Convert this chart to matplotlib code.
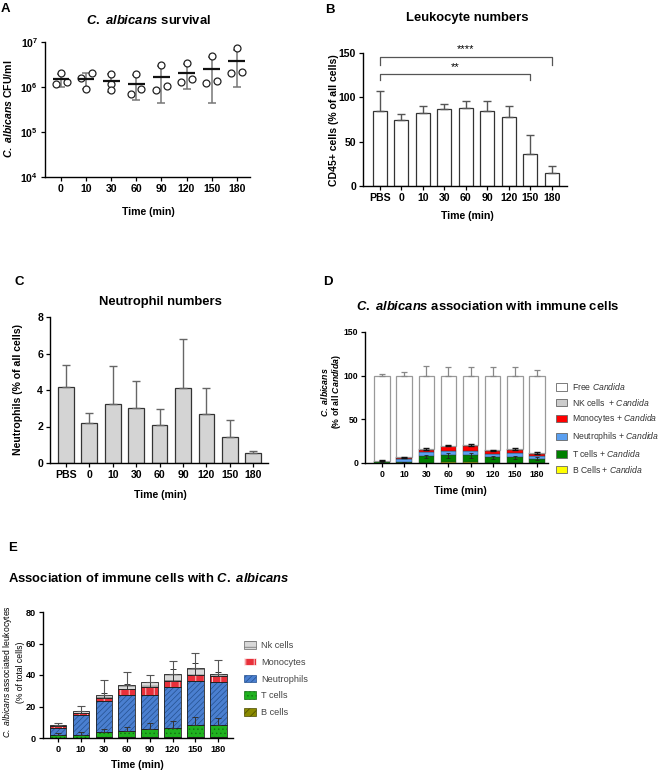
import numpy as np
import matplotlib
matplotlib.use("Agg")
import matplotlib.pyplot as plt
from matplotlib.patches import Patch

plt.rcParams['font.family'] = 'Liberation Sans'
plt.rcParams['font.weight'] = 'bold'
plt.rcParams['mathtext.fontset'] = 'custom'
plt.rcParams['mathtext.rm'] = 'Liberation Sans:bold'
plt.rcParams['mathtext.bf'] = 'Liberation Sans:bold'
plt.rcParams['mathtext.it'] = 'Liberation Sans:italic:bold'
plt.rcParams['mathtext.sf'] = 'Liberation Sans:italic:regular'
plt.rcParams['hatch.linewidth'] = 0.5
plt.rcParams['axes.linewidth'] = 1.0

# ---------------- data ----------------
times = ['0', '10', '30', '60', '90', '120', '150', '180']
times_pbs = ['PBS'] + times

# A: C. albicans CFU/ml, three mice per time point
cfu_pts = [[1.19e6, 2.05e6, 1.29e6],
           [1.58e6, 0.89e6, 2.05e6],
           [1.98e6, 1.15e6, 0.87e6],
           [0.69e6, 1.98e6, 0.89e6],
           [0.87e6, 3.10e6, 1.07e6],
           [1.29e6, 3.50e6, 1.50e6],
           [1.23e6, 4.90e6, 1.38e6],
           [2.08e6, 7.30e6, 2.20e6]]
cfu_mean = [1.50e6, 1.50e6, 1.33e6, 1.19e6, 1.68e6, 2.10e6, 2.50e6, 3.85e6]
cfu_sd = [0.48e6, 0.60e6, 0.57e6, 0.68e6, 1.25e6, 1.20e6, 2.05e6, 2.85e6]

# B: CD45+ cells (% of all cells)
cd45 = [85, 75, 82, 87, 88, 85, 78, 36, 15]
cd45_sd = [22, 6, 8, 6, 8, 11, 12, 21, 8]

# C: neutrophils (% of all cells)
neut = [4.18, 2.17, 3.26, 3.02, 2.09, 4.09, 2.67, 1.41, 0.55]
neut_sd = [1.21, 0.59, 2.04, 1.46, 0.87, 2.72, 1.42, 0.96, 0.1]

# D: C. albicans association (% of all Candida)
d_b = [0.1, 0.0, 0.5, 0.8, 0.8, 0.3, 0.3, 0.3]
d_t = [2.0, 1.2, 7.0, 8.0, 8.0, 6.2, 6.2, 4.7]
d_n = [0.3, 3.4, 4.6, 5.0, 5.5, 3.4, 5.0, 2.6]
d_m = [0.1, 1.2, 3.0, 5.3, 5.3, 3.5, 3.8, 3.1]
d_nk = [0.1, 0.6, 0.8, 0.8, 0.7, 1.0, 1.0, 1.1]
d_free = [97.4, 93.6, 84.1, 80.1, 79.7, 85.6, 83.7, 88.2]
d_free_sd = [1.5, 4, 11, 10, 10, 10, 10, 7]
d_t_sd = [0.5, 0.5, 2.0, 3.0, 3.0, 2.0, 2.0, 1.5]
d_top_sd = [0.4, 0.8, 1.0, 1.0, 1.0, 1.0, 1.0, 1.0]

# E: associated leukocytes (% of total cells)
e_b = [0.3, 0.2, 0.4, 0.5, 0.5, 0.5, 0.6, 0.8]
e_t = [1.4, 1.9, 3.4, 4.1, 5.4, 5.8, 7.4, 7.2]
e_n = [4.6, 12.6, 19.4, 22.8, 21.5, 26.3, 28.4, 27.5]
e_m = [1.1, 1.1, 2.1, 3.6, 4.8, 3.6, 3.8, 3.9]
e_nk = [0.8, 1.2, 1.7, 2.7, 3.4, 4.2, 4.4, 1.2]
e_t_sd = [1.4, 1.7, 2.1, 2.6, 3.8, 4.3, 5.5, 4.8]
e_m_sd = [0.5, 1.5, 3.0, 3.1, 3.5, 7.6, 7.6, 2.5]
e_nk_sd = [1.3, 3.4, 9.8, 8.0, 4.4, 8.6, 9.5, 9.0]

# ---------------- layout helpers ----------------
W, H = 665, 773
fig = plt.figure(figsize=(W / 100, H / 100), dpi=100)


def px_axes(l, t, r, b):
    return fig.add_axes([l / W, 1 - b / H, (r - l) / W, (b - t) / H])


def ftext(x, y, s, **kw):
    kw.setdefault('ha', 'center')
    kw.setdefault('va', 'center')
    fig.text(x / W, 1 - y / H, s, **kw)


def style(ax, fs):
    ax.spines['top'].set_visible(False)
    ax.spines['right'].set_visible(False)
    ax.tick_params(direction='out', length=3, width=0.9, labelsize=fs, pad=2)


TITLE = 9.4
LAB = 7.6

# ---------------- A ----------------
axA = px_axes(45, 42, 250, 177)
style(axA, 7.6)
xa = np.arange(len(times))
jit = [[-0.22, 0, 0.22], [-0.22, 0, 0.22], [0, 0, 0], [-0.2, 0, 0.2],
       [-0.22, 0, 0.22], [-0.22, 0, 0.22], [-0.22, 0, 0.22], [-0.22, 0, 0.22]]
for i in range(len(times)):
    axA.plot(np.array(jit[i]) + i, cfu_pts[i], 'o', mfc='white', mec='#222',
             mew=0.9, ms=5, zorder=3)
axA.errorbar(xa, cfu_mean, yerr=cfu_sd, fmt='none', ecolor='#777',
             elinewidth=1.1, capsize=3, capthick=1.1, zorder=2)
axA.hlines(cfu_mean, xa - 0.33, xa + 0.33, color='#111', lw=1.6, zorder=4)
axA.set_yscale('log')
axA.set_ylim(1e4, 1e7)
axA.set_xlim(-0.64, 7.53)
axA.set_xticks(xa)
axA.set_xticklabels(times)
axA.yaxis.set_minor_locator(matplotlib.ticker.NullLocator())

ftext(5, 9, 'A', fontsize=9.5)
ftext(148, 20, r'$C.\ albicans$ survival', fontsize=TITLE)
ftext(8, 109, r'$C.\ albicans$ CFU/ml', fontsize=LAB, rotation=90)
ftext(148, 212, 'Time (min)', fontsize=LAB)

# ---------------- B ----------------
axB = px_axes(363, 53, 567, 186)
style(axB, 7.6)
xb = np.arange(len(times_pbs))
axB.bar(xb, cd45, 0.65, color='white', edgecolor='#333', lw=0.9)
axB.errorbar(xb, cd45, yerr=[np.zeros(len(xb)), cd45_sd], fmt='none',
             ecolor='#555', elinewidth=1, capsize=3, capthick=1)
axB.set_ylim(0, 150)
axB.set_yticks([0, 50, 100, 150])
axB.set_xlim(-0.79, 8.7)
axB.set_xticks(xb)
axB.set_xticklabels(times_pbs)
# significance brackets
axB.plot([0, 0, 8, 8], [137, 145, 145, 137], color='#555', lw=0.9, clip_on=False)
axB.plot([0, 0, 7, 7], [119, 126.6, 126.6, 119], color='#555', lw=0.9, clip_on=False)
axB.text(4, 148.5, '****', ha='center', va='bottom', fontsize=8, fontweight='normal')
axB.text(3.5, 128.5, '**', ha='center', va='bottom', fontsize=8, fontweight='normal')

ftext(330, 10, 'B', fontsize=9.5)
ftext(467, 18, 'Leukocyte numbers', fontsize=TITLE)
ftext(334, 120, 'CD45+ cells (% of all cells)', fontsize=LAB, rotation=90)
ftext(467, 216, 'Time (min)', fontsize=LAB)

# ---------------- C ----------------
axC = px_axes(50, 317, 268, 463)
style(axC, 7.6)
axC.bar(xb, neut, 0.67, color='#d4d4d4', edgecolor='#333', lw=0.9)
axC.errorbar(xb, neut, yerr=[np.zeros(len(xb)), neut_sd], fmt='none',
             ecolor='#666', elinewidth=1, capsize=3, capthick=1)
axC.set_ylim(0, 8)
axC.set_yticks([0, 2, 4, 6, 8])
axC.set_xlim(-0.68, 8.63)
axC.set_xticks(xb)
axC.set_xticklabels(times_pbs)

ftext(19, 282, 'C', fontsize=9.5)
ftext(160, 302, 'Neutrophil numbers', fontsize=TITLE)
ftext(18, 390, 'Neutrophils (% of all cells)', fontsize=LAB, rotation=90)
ftext(160, 495, 'Time (min)', fontsize=LAB)

# ---------------- D ----------------
axD = px_axes(365, 332, 548, 463)
style(axD, 6.2)
xd = np.arange(len(times))
wd = 0.7
d_cols = ['#ffff00', '#008000', '#5a9ff0', '#ff0000', '#cccccc', 'white']
d_layers = [d_b, d_t, d_n, d_m, d_nk, d_free]
bottom = np.zeros(len(times))
for vals, col in zip(d_layers, d_cols):
    if col == 'white':
        axD.bar(xd, vals, wd, bottom=bottom, color=col, edgecolor='#999', lw=0.9)
    else:
        axD.bar(xd, vals, wd, bottom=bottom, color=col, edgecolor='#333', lw=0.3)
    bottom = bottom + np.array(vals)
axD.errorbar(xd, bottom, yerr=[np.zeros(len(xd)), d_free_sd], fmt='none',
             ecolor='#888', elinewidth=0.9, capsize=2.5, capthick=0.9)
t_top = np.array(d_b) + np.array(d_t)
axD.errorbar(xd, t_top, yerr=d_t_sd, fmt='none', ecolor='#222',
             elinewidth=0.6, capsize=1.5, capthick=0.6)
c_top = t_top + np.array(d_n) + np.array(d_m) + np.array(d_nk)
axD.errorbar(xd, c_top, yerr=d_top_sd, fmt='none', ecolor='#111',
             elinewidth=0.8, capsize=2.5, capthick=1.0)
axD.set_ylim(0, 150)
axD.set_yticks([0, 50, 100, 150])
axD.set_xlim(-0.77, 7.5)
axD.set_xticks(xd)
axD.set_xticklabels(times)

d_labels = [r'Free $\mathsf{Candida}$', r'NK cells  + $\mathsf{Candida}$',
            r'Monocytes + $\mathsf{Candida}$', r'Neutrophils + $\mathsf{Candida}$',
            r'T cells + $\mathsf{Candida}$', r'B Cells + $\mathsf{Candida}$']
d_handles = [Patch(facecolor=c, edgecolor='#666', lw=0.6) for c in d_cols[::-1]]
legD = axD.legend(d_handles, d_labels, loc='upper left',
                  bbox_to_anchor=(556 / W, 1 - 381 / H),
                  bbox_transform=fig.transFigure, frameon=False,
                  prop={'size': 6.2, 'weight': 'normal'}, borderpad=0,
                  borderaxespad=0, labelspacing=0.55, handlelength=1.3,
                  handleheight=0.9, handletextpad=0.6)
for t in legD.get_texts():
    t.set_color('#333')

ftext(328, 282, 'D', fontsize=9.5)
ftext(488, 307, r'$C.\ albicans$ association with immune cells', fontsize=TITLE)
ftext(331, 392, r'$C.\ albicans$' + '\n' + r'(% of all $Candida$)',
      fontsize=6.3, rotation=90, linespacing=1.1)
ftext(460, 491, 'Time (min)', fontsize=LAB)

# ---------------- E ----------------
axE = px_axes(43, 612, 233, 738)
style(axE, 6.6)
xe = np.arange(len(times))
we = 0.73
e_styles = [('#8a8a00', '#4a4a00', '////'),
            ('#1fb21f', '#137013', '....'),
            ('#4a7fd0', '#24508f', '//////'),
            ('#e8303a', 'white', '||'),
            ('#d9d9d9', '#666666', '---')]
e_layers = [e_b, e_t, e_n, e_m, e_nk]
bottom = np.zeros(len(times))
for vals, (fc, hc, ht) in zip(e_layers, e_styles):
    axE.bar(xe, vals, we, bottom=bottom, color=fc, edgecolor=hc, hatch=ht, lw=0)
    axE.bar(xe, vals, we, bottom=bottom, fill=False, edgecolor='#222', lw=0.6)
    bottom = bottom + np.array(vals)
et_top = np.array(e_b) + np.array(e_t)
em_top = et_top + np.array(e_n) + np.array(e_m)
axE.errorbar(xe, et_top, yerr=[np.zeros(len(xe)), e_t_sd], fmt='none',
             ecolor='#333', elinewidth=0.7, capsize=2.5, capthick=0.7)
axE.errorbar(xe, em_top, yerr=[np.zeros(len(xe)), e_m_sd], fmt='none',
             ecolor='#333', elinewidth=0.7, capsize=2.5, capthick=0.7)
axE.errorbar(xe, bottom, yerr=[np.zeros(len(xe)), e_nk_sd], fmt='none',
             ecolor='#555', elinewidth=0.8, capsize=3, capthick=0.8)
axE.set_ylim(0, 80)
axE.set_yticks([0, 20, 40, 60, 80])
axE.set_xlim(-0.66, 7.64)
axE.set_xticks(xe)
axE.set_xticklabels(times)

e_labels = ['Nk cells', 'Monocytes', 'Neutrophils', 'T cells', 'B cells']
e_handles = [Patch(facecolor=fc, edgecolor=hc, hatch=ht, lw=0.5)
             for fc, hc, ht in e_styles[::-1]]
legE = axE.legend(e_handles, e_labels, loc='upper left',
                  bbox_to_anchor=(244 / W, 1 - 641 / H),
                  bbox_transform=fig.transFigure, frameon=False,
                  prop={'size': 6.6, 'weight': 'normal'}, borderpad=0,
                  borderaxespad=0, labelspacing=0.85, handlelength=1.3,
                  handleheight=0.9, handletextpad=0.6)
for t in legE.get_texts():
    t.set_color('#444')

ftext(8, 548, 'E', fontsize=9.5, ha='left')
ftext(8, 578, r'Association of immune cells with $C.\ albicans$', fontsize=TITLE, ha='left')
ftext(13, 672, r'$\mathsf{C.\ albicans}$ associated leukocytes' + '\n' + '(% of total cells)',
      fontsize=6.2, rotation=90, fontweight='normal', linespacing=1.4)
ftext(137, 765, 'Time (min)', fontsize=LAB)

fig.savefig('out.png', dpi=100)
